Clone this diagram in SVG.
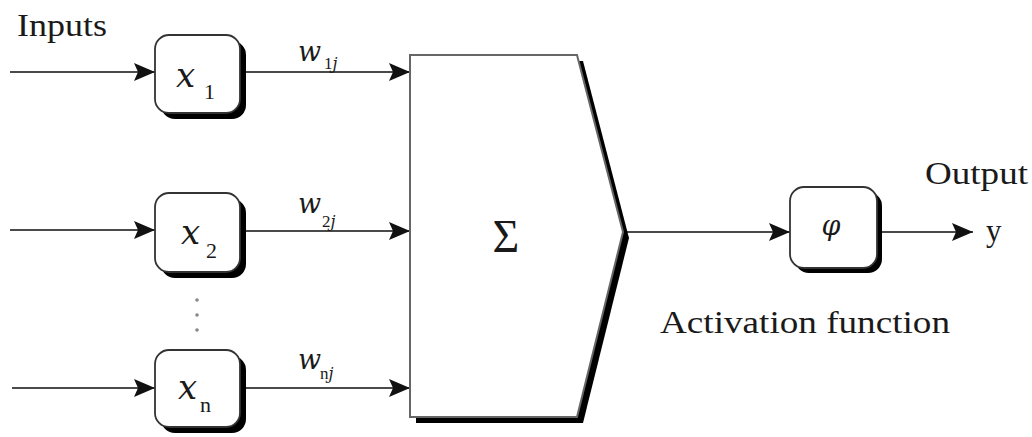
<svg xmlns="http://www.w3.org/2000/svg" width="1032" height="437" viewBox="0 0 1032 437">
<style>
.ln{stroke:#4a4a4a;stroke-width:2;fill:none}
.box{fill:#fff;stroke:#333;stroke-width:1.8}
.sh{fill:#000}
.t{font-family:"Liberation Serif","Times New Roman",serif;fill:#1a1a1a}
.it{font-family:"DejaVu Serif","Liberation Serif",serif;font-style:italic;fill:#1a1a1a}
</style>
<defs>
<marker id="ah" markerUnits="userSpaceOnUse" markerWidth="22" markerHeight="18" refX="21" refY="9" orient="auto">
<path d="M0,0 L21,9 L0,18 L4,9 z" fill="#111"/>
</marker>
</defs>
<rect width="1032" height="437" fill="#fff"/>
<g id="connectors">
<line class="ln" x1="10" y1="72" x2="155" y2="72" marker-end="url(#ah)"/>
<line class="ln" x1="10" y1="230" x2="155" y2="230" marker-end="url(#ah)"/>
<line class="ln" x1="12" y1="388" x2="155" y2="388" marker-end="url(#ah)"/>
<line class="ln" x1="240" y1="72" x2="410" y2="72" marker-end="url(#ah)"/>
<line class="ln" x1="240" y1="231" x2="410" y2="231" marker-end="url(#ah)"/>
<line class="ln" x1="240" y1="388" x2="410" y2="388" marker-end="url(#ah)"/>
<line class="ln" x1="623" y1="232" x2="790" y2="232" marker-end="url(#ah)"/>
<line class="ln" x1="877" y1="232" x2="973" y2="232" marker-end="url(#ah)"/>
</g>
<g id="labels">
<text class="t" x="17" y="36" font-size="31" textLength="90" lengthAdjust="spacingAndGlyphs">Inputs</text>
<text class="t" x="925" y="184" font-size="31" textLength="103" lengthAdjust="spacingAndGlyphs">Output</text>
<text class="t" x="986" y="241" font-size="31">y</text>
<text class="t" x="660" y="333" font-size="31" textLength="290" lengthAdjust="spacingAndGlyphs">Activation function</text>
<text class="it" x="298" y="61" font-size="27">w</text><text class="t" x="324" y="69" font-size="17">1<tspan class="it" font-size="16">j</tspan></text>
<text class="it" x="298" y="213" font-size="27">w</text><text class="t" x="322" y="227" font-size="17">2<tspan class="it" font-size="16">j</tspan></text>
<text class="it" x="298" y="369" font-size="27">w</text><text class="t" x="320" y="379" font-size="17">n<tspan class="it" font-size="16">j</tspan></text>
<circle cx="197" cy="300" r="1.8" fill="#888"/>
<circle cx="197" cy="315" r="1.8" fill="#888"/>
<circle cx="197" cy="330" r="1.8" fill="#888"/>
</g>
<g id="x1">
<rect class="sh" x="161" y="41" width="85" height="78" rx="14"/>
<rect class="box" x="155" y="35" width="85" height="78" rx="14"/>
<text class="it" x="176" y="87" font-size="34">x</text><text class="t" x="204" y="99" font-size="22">1</text>
</g>
<g id="x2">
<rect class="sh" x="161" y="199" width="85" height="79" rx="14"/>
<rect class="box" x="155" y="193" width="85" height="79" rx="14"/>
<text class="it" x="181" y="244" font-size="34">x</text><text class="t" x="206" y="258" font-size="22">2</text>
</g>
<g id="xn">
<rect class="sh" x="161" y="356" width="85" height="77" rx="14"/>
<rect class="box" x="155" y="350" width="85" height="77" rx="14"/>
<text class="it" x="178" y="399" font-size="34">x</text><text class="t" x="200" y="412" font-size="22">n</text>
</g>
<g id="sum">
<polygon class="sh" points="416,61 583,61 629,238 583,423 416,423"/>
<polygon points="410,55 577,55 623,232 577,417 410,417" fill="#fff" stroke="#666" stroke-width="2"/>
<text class="t" x="506" y="252" font-size="46" text-anchor="middle" font-family="DejaVu Serif">Σ</text>
</g>
<g id="phi">
<rect class="sh" x="795" y="192" width="87" height="81" rx="14"/>
<rect class="box" x="790" y="187" width="87" height="81" rx="14"/>
<text class="it" x="831" y="235" font-size="27" text-anchor="middle">φ</text>
</g>
</svg>
